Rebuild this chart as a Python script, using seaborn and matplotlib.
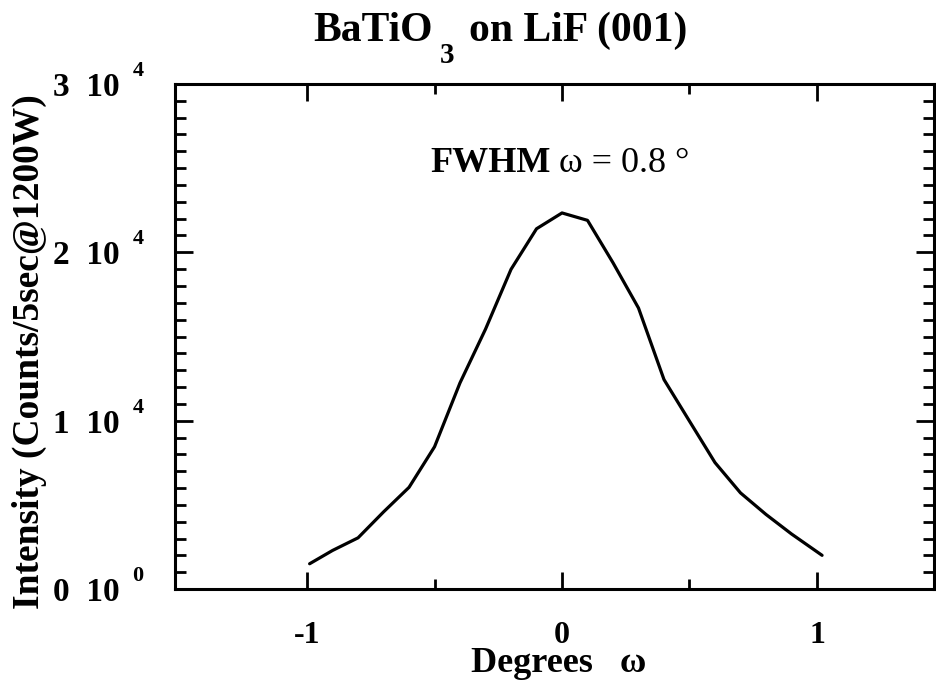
import matplotlib
matplotlib.use("Agg")
import matplotlib.pyplot as plt
import seaborn as sns
import pandas as pd

# ---- data ----
omega_deg = [-0.99, -0.9, -0.8, -0.7, -0.6, -0.5, -0.4, -0.3, -0.2, -0.1,
             0.0, 0.1, 0.2, 0.3, 0.4, 0.5, 0.6, 0.7, 0.8, 0.9, 1.02]
intensity = [1500, 2290, 3040, 4580, 6040, 8450, 12250, 15440, 18990, 21400,
             22340, 21900, 19380, 16690, 12440, 9970, 7510, 5710, 4430, 3270, 2000]

xtick_values = [-1, 0, 1]
xtick_labels = ["-1", "0", "1"]
xminor_values = [-0.5, 0.5]
ytick_values = [0, 10000, 20000, 30000]
ytick_mantissa = ["0  10", "1  10", "2  10", "3  10"]
ytick_exponent = ["0", "4", "4", "4"]
yminor_values = list(range(0, 30001, 1000))

title_main = "BaTiO"
title_sub = "3"
title_rest = "on LiF (001)"
annot_bold = "FWHM"
annot_plain = "ω = 0.8 °"
xlabel_text = "Degrees   ω"
ylabel_text = "Intensity (Counts/5sec@1200W)"

df = pd.DataFrame({"omega": omega_deg, "intensity": intensity})

sns.set_theme(style="ticks")
plt.rcParams["font.family"] = ["Liberation Serif", "DejaVu Serif"]
plt.rcParams["text.color"] = "black"
plt.rcParams["xtick.color"] = "black"
plt.rcParams["ytick.color"] = "black"
plt.rcParams["axes.edgecolor"] = "black"

W, H = 937, 685
fig = plt.figure(figsize=(W / 100, H / 100), dpi=100)
fig.patch.set_facecolor("white")
ax = fig.add_axes([175 / W, 96 / H, 759 / W, 505 / H])
ax.set_facecolor("white")

sns.lineplot(data=df, x="omega", y="intensity", ax=ax, color="black",
             linewidth=2.3, sort=False)

ax.set_xlim(-1.518, 1.459)
ax.set_ylim(0, 30000)

ax.set_xticks(xtick_values)
ax.set_xticklabels(xtick_labels, fontsize=23, fontweight="bold")
ax.set_xticks(xminor_values, minor=True)
ax.set_yticks(ytick_values)
ax.set_yticklabels(ytick_mantissa, fontsize=24, fontweight="bold")
ax.set_yticks(yminor_values, minor=True)

ax.tick_params(which="both", direction="in", top=True, right=True,
               width=2.0, color="black")
ax.tick_params(axis="x", which="major", length=12, pad=23)
ax.tick_params(axis="x", which="minor", length=7)
ax.tick_params(axis="y", which="major", length=13, pad=40)
ax.tick_params(axis="y", which="minor", length=8)

for s in ax.spines.values():
    s.set_linewidth(2.2)
    s.set_color("black")

ax.set_xlabel("")
ax.set_ylabel("")

fig.text(559 / W, 1 - 672 / H, xlabel_text, ha="center", va="baseline",
         fontsize=26, fontweight="bold")
fig.text(29 / W, 1 - 352 / H, ylabel_text, ha="center", va="center",
         rotation=90, fontsize=27, fontweight="bold")

r = fig.canvas.get_renderer()

# title built from pieces so the subscript sits low like the reference
title_base = 41
t1 = fig.text(313 / W, 1 - title_base / H, title_main, ha="left",
              va="baseline", fontsize=30, fontweight="bold")
b1 = t1.get_window_extent(r)
t2 = fig.text((b1.x1 + 7) / W, 1 - (title_base + 22) / H, title_sub,
              ha="left", va="baseline", fontsize=21, fontweight="bold")
b2 = t2.get_window_extent(r)
fig.text((b2.x1 + 15) / W, 1 - title_base / H, title_rest, ha="left",
         va="baseline", fontsize=30, fontweight="bold")

# annotation: bold FWHM followed by regular text
annot_y_px = ax.transData.transform((0, 25300))[1]
tmp1 = fig.text(0, 0, annot_bold, fontsize=26, fontweight="bold")
tmp2 = fig.text(0, 0, " " + annot_plain, fontsize=26)
w1 = tmp1.get_window_extent(r).width
w2 = tmp2.get_window_extent(r).width
tmp1.remove()
tmp2.remove()
x_start = 560 - (w1 + w2) / 2
fig.text(x_start / W, annot_y_px / H, annot_bold, ha="left", va="center",
         fontsize=26, fontweight="bold")
fig.text((x_start + w1) / W, annot_y_px / H, " " + annot_plain,
         ha="left", va="center", fontsize=26)

# superscript exponents on the y tick labels
fig.canvas.draw()
for lab, ex in zip(ax.get_yticklabels(), ytick_exponent):
    bb = lab.get_window_extent(r)
    fig.text((bb.x1 + 13) / W, (bb.y1 + 1) / H, ex, ha="left", va="center",
             fontsize=16, fontweight="bold")

fig.savefig("out.png", dpi=100, facecolor="white")
